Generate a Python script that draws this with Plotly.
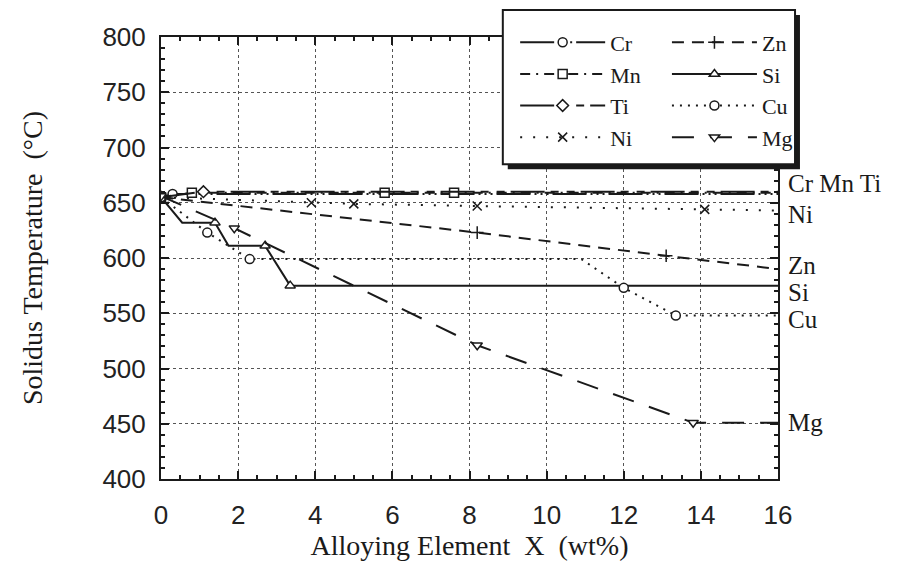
import plotly.graph_objects as go

# Solidus temperature of binary Al-X alloys vs. alloying content (wt%)
cr_x = [0, 0.3, 16]
cr_y = [655, 658, 658]
cr_pts = [0, 0.3]

zn_x = [0, 8.2, 13.1, 16]
zn_y = [655, 623, 602, 590]
zn_pts = [0, 8.2, 13.1]

mn_x = [0, 0.8, 5.8, 7.6, 16]
mn_y = [655, 659, 659, 659, 659]
mn_pts = [0, 0.8, 5.8, 7.6]

si_x = [0, 0.55, 1.4, 1.75, 2.7, 3.35, 16]
si_y = [655, 632, 632, 611, 611, 575, 575]
si_pts = [0, 1.4, 2.7, 3.35]

ti_x = [0, 1.1, 16]
ti_y = [655, 660, 660]
ti_pts = [0, 1.1]

cu_x = [0, 1.2, 2.3, 10.9, 12.0, 13.35, 16]
cu_y = [655, 623, 599, 599, 573, 548, 548]
cu_pts = [0, 1.2, 2.3, 12.0, 13.35]

ni_x = [0, 3.9, 5.0, 8.2, 14.1, 16]
ni_y = [655, 650, 649, 647, 644, 643]
ni_pts = [0, 3.9, 5.0, 8.2, 14.1]

mg_x = [0, 1.9, 8.2, 13.8, 16]
mg_y = [656, 627, 521, 451, 451]
mg_pts = [0, 1.9, 8.2, 13.8]

# end-of-line labels on the right side
side_labels = ["Cr Mn Ti", "Ni", "Zn", "Si", "Cu", "Mg"]
side_label_y = [667, 639, 593, 569, 544, 451]

INK = "#1a1a1a"
CLEAR = "rgba(0,0,0,0)"

# (name, x, y, marked x, symbol, dash, legend column)
series = [
    ("Cr", cr_x, cr_y, cr_pts, "circle", "34px,4px,2px,4px,2px,4px,2px,4px", "legend"),
    ("Mn", mn_x, mn_y, mn_pts, "square", "10px,6px,2px,6px", "legend"),
    ("Ti", ti_x, ti_y, ti_pts, "diamond", "34px,6px,8px,8px,8px,6px", "legend"),
    ("Ni", ni_x, ni_y, ni_pts, "x-thin-open", "2px,11px", "legend"),
    ("Zn", zn_x, zn_y, zn_pts, "cross-thin-open", "12px,8px", "legend2"),
    ("Si", si_x, si_y, si_pts, "triangle-up", "solid", "legend2"),
    ("Cu", cu_x, cu_y, cu_pts, "circle", "2px,6px", "legend2"),
    ("Mg", mg_x, mg_y, mg_pts, "triangle-down", "22px,16px", "legend2"),
]

fig = go.Figure()
for name, xs, ys, pts, sym, dash, leg in series:
    open_sym = sym.endswith("-open")
    fill = [(INK if open_sym else "white") if x in pts else CLEAR for x in xs]
    edge = [INK if x in pts else CLEAR for x in xs]
    fig.add_trace(go.Scatter(
        x=xs, y=ys, name=name, mode="lines+markers", legend=leg,
        line=dict(color=INK, width=2, dash=dash),
        marker=dict(symbol=sym, size=9, color=fill,
                    line=dict(color=edge, width=1.5)),
    ))

for txt, yv in zip(side_labels, side_label_y):
    fig.add_annotation(
        text=txt, xref="paper", x=1, xanchor="left", xshift=8,
        yref="y", y=yv, yanchor="middle", showarrow=False,
        font=dict(family="Liberation Serif", size=25, color=INK),
    )

# legend frame with a drop shadow
box_x0, box_x1 = 0.554, 1.0276
box_y0, box_y1 = 0.712, 1.061
fig.add_shape(type="rect", xref="paper", yref="paper", layer="above",
              x0=box_x0 + 0.008, x1=box_x1 + 0.008,
              y0=box_y0 - 0.011, y1=box_y1 - 0.011,
              fillcolor=INK, line=dict(width=0))
fig.add_shape(type="rect", xref="paper", yref="paper", layer="above",
              x0=box_x0, x1=box_x1, y0=box_y0, y1=box_y1,
              fillcolor="white", line=dict(color=INK, width=2))

axis_common = dict(
    showline=True, linecolor=INK, linewidth=2, mirror="ticks",
    ticks="inside", ticklen=8, tickwidth=1.5, tickcolor=INK,
    showgrid=True, gridcolor="#555", gridwidth=1, griddash="dot",
    zeroline=False,
    tickfont=dict(family="Liberation Sans", size=26, color="#222"),
    title_font=dict(family="Liberation Serif", size=28, color=INK),
)

fig.update_xaxes(
    range=[0, 16], dtick=2, tick0=0,
    minor=dict(dtick=0.5, ticks="inside", ticklen=4, tickcolor=INK, showgrid=False),
    title_text="Alloying Element  X  (wt%)", title_standoff=2,
    ticklabelstandoff=12,
    **axis_common,
)
fig.update_yaxes(
    range=[400, 800], dtick=50, tick0=400,
    minor=dict(dtick=10, ticks="inside", ticklen=4, tickcolor=INK, showgrid=False),
    title_text="Solidus Temperature  (°C)", title_standoff=52,
    ticklabelstandoff=8,
    **axis_common,
)

legend_common = dict(
    orientation="v", yanchor="top", xanchor="left", y=1.035,
    itemwidth=85, bgcolor=CLEAR, borderwidth=0,
    font=dict(family="Liberation Serif", size=22, color=INK),
)
fig.update_layout(
    width=901, height=564,
    margin=dict(l=161, r=123, t=37, b=83),
    paper_bgcolor="white", plot_bgcolor="white",
    legend=dict(x=0.574, **legend_common),
    legend2=dict(x=0.820, **legend_common),
)

fig.write_html("out.html")
